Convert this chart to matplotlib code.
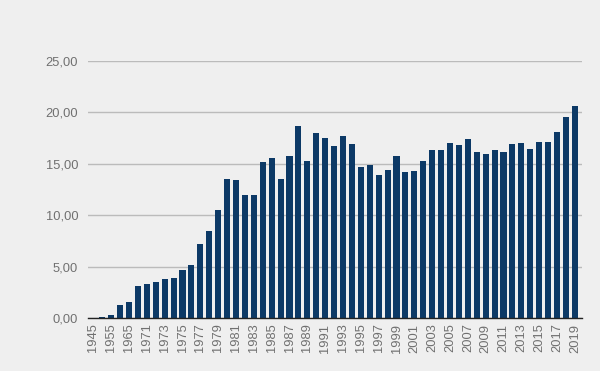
import matplotlib.pyplot as plt
import numpy as np

plt.rcParams['font.family'] = ['Liberation Sans', 'DejaVu Sans']

# Years: 1945-1970 in 5-year steps, then yearly to 2019
years = [1945, 1950, 1955, 1960, 1965, 1970] + list(range(1971, 2020))
values = [
    0.0, 0.1, 0.3, 1.25, 1.6, 3.15,           # 1945-1970
    3.3, 3.5, 3.8, 3.9, 4.7, 5.15, 7.2, 8.5, 10.5, 13.5,   # 1971-1980
    13.4, 12.0, 11.95, 15.15, 15.6, 13.5, 15.8, 18.65, 15.25, 17.97,  # 1981-1990
    17.48, 16.7, 17.67, 16.9, 14.66, 14.85, 13.88, 14.37, 15.73, 14.17,  # 1991-2000
    14.3, 15.24, 16.37, 16.37, 17.0, 16.8, 17.38, 16.1, 16.0, 16.3,  # 2001-2010
    16.1, 16.9, 17.0, 16.4, 17.1, 17.1, 18.06, 19.6, 20.6,  # 2011-2019
]
yticks = [0, 5, 10, 15, 20, 25]

bg = '#efefef'
bar_color = '#0c3966'
text_color = '#707070'

fig = plt.figure(figsize=(6, 3.71), dpi=100, facecolor=bg)
ax = fig.add_axes([88 / 600, 53 / 371, 494 / 600, 257 / 371], facecolor=bg)

x = np.arange(len(years))
ax.bar(x, values, width=0.68, color=bar_color, zorder=3)

ax.set_ylim(0, 25)
ax.set_xlim(-0.6, len(years) - 0.2)
ax.set_yticks(yticks)
ax.set_yticklabels([f"{v:.2f}".replace('.', ',') for v in yticks],
                   fontsize=9.3, color=text_color)
ax.yaxis.grid(True, color='#bbbbbb', linewidth=1, zorder=0)
ax.set_axisbelow(True)

ax.set_xticks(x[::2])
ax.set_xticklabels([str(y) for y in years[::2]], rotation=90,
                   fontsize=9.3, color=text_color)

ax.tick_params(axis='y', length=0, pad=7)
ax.tick_params(axis='x', length=0, pad=4)
for s in ['top', 'right', 'left']:
    ax.spines[s].set_visible(False)
ax.spines['bottom'].set_color('#222222')
ax.spines['bottom'].set_linewidth(1)
ax.spines['bottom'].set_zorder(4)

fig.savefig('out.png', dpi=100, facecolor=bg)
